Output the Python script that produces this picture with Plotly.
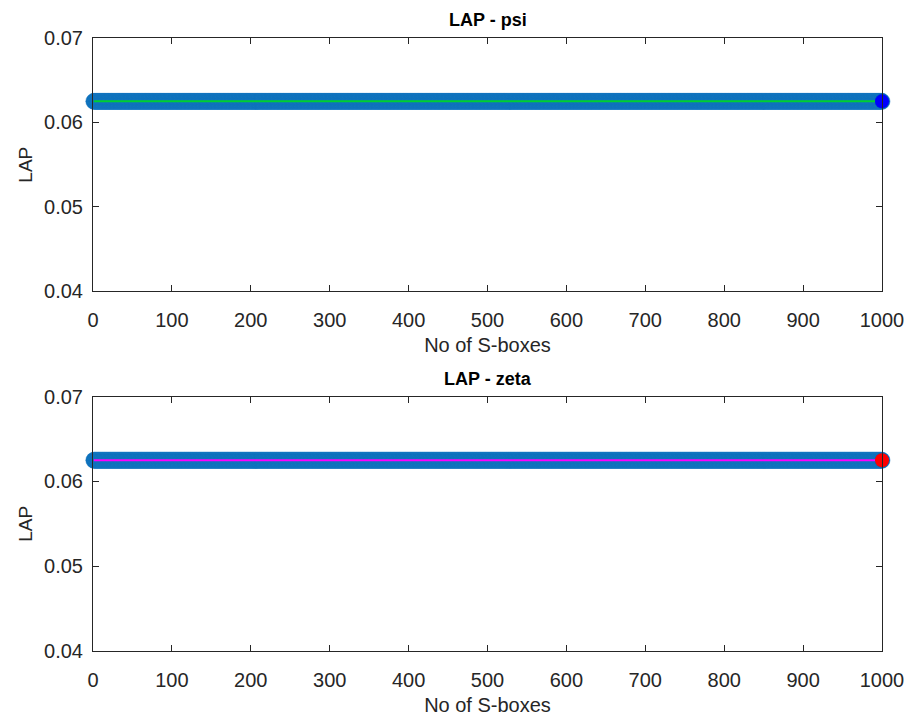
import plotly.graph_objects as go

n_sboxes = list(range(1, 1001))
lap_psi = [0.0625] * 1000
lap_zeta = [0.0625] * 1000

titles = ["LAP - psi", "LAP - zeta"]
x_ticks = [0, 100, 200, 300, 400, 500, 600, 700, 800, 900, 1000]
y_ticks = [0.04, 0.05, 0.06, 0.07]

fig = go.Figure()

top_dom = [0.5867, 1.0]
bot_dom = [0.0, 0.4149]

series = [(lap_psi, "x", "y", "#00D030", "#0000FF"),
          (lap_zeta, "x2", "y2", "#FF00FF", "#FF0000")]

for vals, xa, ya, lc, endc in series:
    fig.add_trace(go.Scatter(x=n_sboxes, y=vals, xaxis=xa, yaxis=ya, mode="markers",
                             marker=dict(size=16, color="#0069B5",
                                         line=dict(width=0.5, color="#1F7CC4")),
                             cliponaxis=False, showlegend=False, hoverinfo="skip"))
    fig.add_trace(go.Scatter(x=n_sboxes, y=vals, xaxis=xa, yaxis=ya, mode="lines",
                             line=dict(color=lc, width=2), showlegend=False))
    fig.add_trace(go.Scatter(x=[n_sboxes[-1]], y=[vals[-1]], xaxis=xa, yaxis=ya, mode="markers",
                             marker=dict(size=14, color=endc), cliponaxis=False,
                             showlegend=False))

font_fam = "Liberation Sans, Arial, sans-serif"
ax_common = dict(showline=True, linecolor="#262626", linewidth=1, mirror="ticks",
                 ticks="inside", ticklen=6, tickcolor="#262626", showgrid=False,
                 zeroline=False, tickfont=dict(size=20, color="#262626", family=font_fam))

xt = dict(text="No of S-boxes", font=dict(size=20), standoff=7)
yt = dict(text="LAP", font=dict(size=19), standoff=6)

fig.update_layout(
    width=922, height=724,
    margin=dict(l=93, r=40, t=38, b=69),
    plot_bgcolor="white", paper_bgcolor="white",
    font=dict(family=font_fam, color="#262626"),
    xaxis=dict(domain=[0, 1], anchor="y", range=[0, 1000], tickvals=x_ticks,
               ticklabelstandoff=11, title=xt, **ax_common),
    yaxis=dict(domain=top_dom, anchor="x", range=[0.04, 0.07], tickvals=y_ticks,
               tickformat=".2f", ticklabelstandoff=5, title=yt, **ax_common),
    xaxis2=dict(domain=[0, 1], anchor="y2", range=[0, 1000], tickvals=x_ticks,
                ticklabelstandoff=11, title=xt, **ax_common),
    yaxis2=dict(domain=bot_dom, anchor="x2", range=[0.04, 0.07], tickvals=y_ticks,
                tickformat=".2f", ticklabelstandoff=5, title=yt, **ax_common),
)

for t, dom in zip(titles, [top_dom, bot_dom]):
    fig.add_annotation(text="<b>%s</b>" % t, x=0.5, xref="paper", y=dom[1], yref="paper",
                       yanchor="bottom", xanchor="center", showarrow=False, yshift=6,
                       font=dict(size=18, color="black", family=font_fam))

fig.write_html("out.html")
